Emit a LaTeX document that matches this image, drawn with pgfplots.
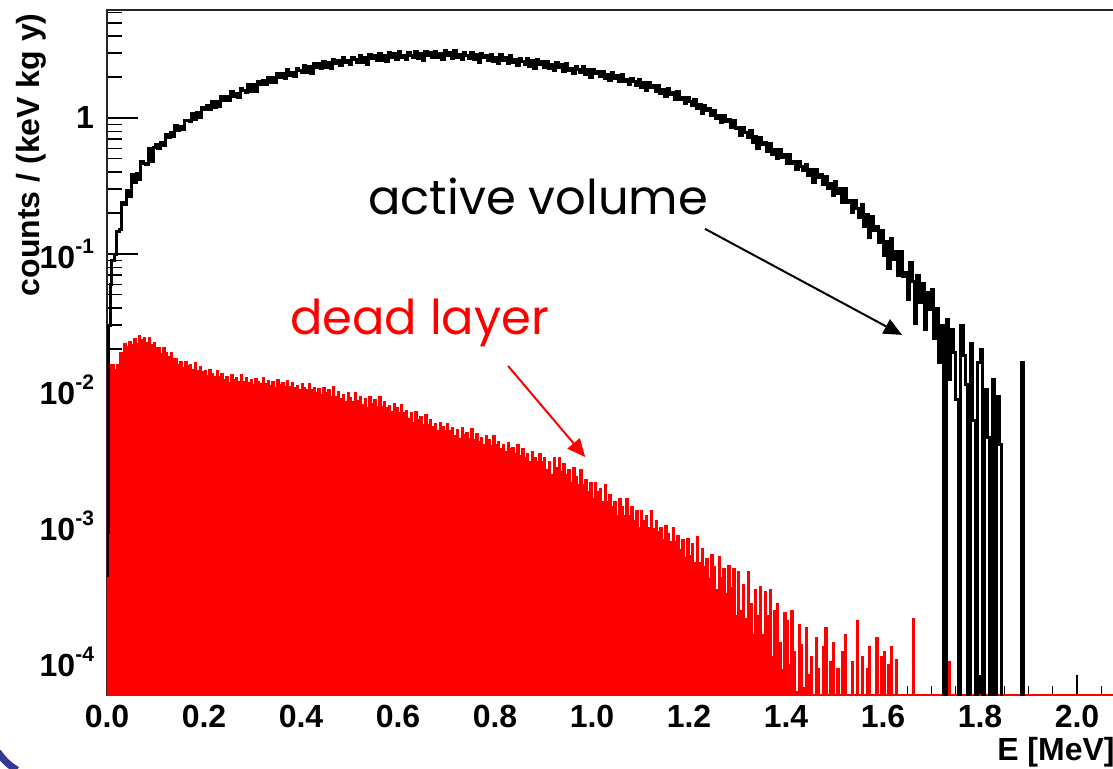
\documentclass[border=0pt]{standalone}
\usepackage{fontspec}
\setmainfont{Liberation Sans}
\newfontfamily\comic{Poppins}
\usepackage{pgfplots}
\pgfplotsset{compat=1.18}
\usetikzlibrary{arrows.meta}
\newcommand{\tenp}[1]{10\raisebox{0.48em}{\fontsize{10.5}{12}\selectfont\bfseries #1}}
\begin{document}
\begin{tikzpicture}
\begin{axis}[
  scale only axis, width=509.25pt, height=342.5pt,
  xmin=0, xmax=2.1, ymode=log, ymin=5.71e-5, ymax=6.22,
  axis line style={line width=0.9pt, black!85},
  xtick={0,0.2,0.4,0.6,0.8,1,1.2,1.4,1.6,1.8,2},
  xticklabels={0.0,0.2,0.4,0.6,0.8,1.0,1.2,1.4,1.6,1.8,2.0},
  minor xtick={0.05,0.1,0.15,0.25,0.3,0.35,0.45,0.5,0.55,0.65,0.7,0.75,0.85,0.9,0.95,1.05,1.1,1.15,1.25,1.3,1.35,1.45,1.5,1.55,1.65,1.7,1.75,1.85,1.9,1.95,2.05},
  ytick={1e-4,1e-3,1e-2,1e-1,1},
  yticklabels={\tenp{-4},\tenp{-3},\tenp{-2},\tenp{-1},1},
  minor ytick={6e-5,7e-5,8e-5,9e-5,2e-4,3e-4,4e-4,5e-4,6e-4,7e-4,8e-4,9e-4,2e-3,3e-3,4e-3,5e-3,6e-3,7e-3,8e-3,9e-3,2e-2,3e-2,4e-2,5e-2,6e-2,7e-2,8e-2,9e-2,0.2,0.3,0.4,0.5,0.6,0.7,0.8,0.9,2,3,4,5,6},
  xtick pos=lower, ytick pos=lower,
  tick align=inside,
  xtick style={black, line width=0.6pt, /pgfplots/major tick length=10pt, /pgfplots/minor tick length=4.5pt},
  ytick style={black, line width=0.6pt, /pgfplots/major tick length=15.5pt, /pgfplots/minor tick length=7.5pt},
  ticklabel style={font=\fontsize{16}{19}\selectfont\bfseries},
  xticklabel style={yshift=-1.7pt},
  yticklabel style={xshift=-3pt},
]
% dead layer (red, filled)
\addplot[const plot, draw=red, fill=red, line width=0.5pt] table {
0.000 1e-7
0.000 0.0161
0.005 0.0153
0.010 0.0154
0.015 0.0141
0.020 0.0155
0.025 0.0187
0.030 0.0188
0.035 0.0218
0.040 0.0208
0.045 0.0227
0.050 0.0217
0.055 0.0237
0.060 0.0219
0.065 0.0250
0.070 0.0234
0.075 0.0241
0.080 0.0223
0.085 0.0245
0.090 0.0215
0.095 0.0225
0.100 0.0204
0.105 0.0206
0.110 0.0186
0.115 0.0204
0.120 0.0190
0.125 0.0177
0.130 0.0190
0.135 0.0169
0.140 0.0171
0.145 0.0154
0.150 0.0161
0.155 0.0145
0.160 0.0163
0.165 0.0150
0.170 0.0155
0.175 0.0142
0.180 0.0158
0.185 0.0140
0.190 0.0148
0.195 0.0136
0.200 0.0139
0.205 0.0128
0.210 0.0142
0.215 0.0133
0.220 0.0126
0.225 0.0139
0.230 0.0126
0.235 0.0131
0.240 0.0119
0.245 0.0126
0.250 0.0113
0.255 0.0129
0.260 0.0120
0.265 0.0124
0.270 0.0115
0.275 0.0129
0.280 0.0115
0.285 0.0123
0.290 0.0114
0.295 0.0119
0.300 0.0110
0.305 0.0122
0.310 0.0116
0.315 0.0111
0.320 0.0123
0.325 0.0112
0.330 0.0117
0.335 0.0108
0.340 0.0115
0.345 0.0105
0.350 0.0119
0.355 0.0110
0.360 0.0114
0.365 0.0106
0.370 0.0118
0.375 0.0106
0.380 0.0113
0.385 0.0105
0.390 0.0108
0.395 0.0100
0.400 0.0111
0.405 0.0105
0.410 0.0100
0.415 0.0111
0.420 0.0100
0.425 0.0105
0.430 0.0096
0.435 0.0102
0.440 0.0092
0.445 0.0104
0.450 0.0096
0.455 0.0100
0.460 0.0089
0.465 0.0106
0.470 0.0089
0.475 0.0098
0.480 0.0087
0.485 0.0092
0.490 0.0082
0.495 0.0096
0.500 0.0088
0.505 0.0082
0.510 0.0096
0.515 0.0083
0.520 0.0089
0.525 0.0078
0.530 0.0086
0.535 0.0074
0.540 0.0090
0.545 0.0080
0.550 0.0085
0.555 0.0075
0.560 0.0089
0.565 0.0075
0.570 0.0082
0.575 0.0074
0.580 0.0077
0.585 0.0069
0.590 0.0080
0.595 0.0074
0.600 0.0068
0.605 0.0078
0.610 0.0068
0.615 0.0071
0.620 0.0062
0.625 0.0068
0.630 0.0058
0.635 0.0069
0.640 0.0061
0.645 0.0064
0.650 0.0056
0.655 0.0066
0.660 0.0056
0.665 0.0061
0.670 0.0054
0.675 0.0057
0.680 0.0050
0.685 0.0058
0.690 0.0054
0.695 0.0050
0.700 0.0057
0.705 0.0050
0.710 0.0053
0.715 0.0046
0.720 0.0051
0.725 0.0044
0.730 0.0053
0.735 0.0047
0.740 0.0049
0.745 0.0044
0.750 0.0052
0.755 0.0043
0.760 0.0048
0.765 0.0042
0.770 0.0045
0.775 0.0040
0.780 0.0046
0.785 0.0043
0.790 0.0039
0.795 0.0046
0.800 0.0040
0.805 0.0042
0.810 0.0037
0.815 0.0040
0.820 0.0035
0.825 0.0041
0.830 0.0037
0.835 0.0038
0.840 0.0034
0.845 0.0040
0.850 0.0033
0.855 0.0037
0.860 0.0032
0.865 0.0034
0.870 0.0030
0.875 0.0035
0.880 0.0032
0.885 0.0030
0.890 0.0034
0.895 0.0030
0.900 0.0032
0.905 0.0026
0.910 0.0030
0.915 0.0024
0.920 0.0032
0.925 0.0027
0.930 0.0032
0.935 0.0025
0.940 0.0029
0.945 0.0024
0.950 0.0026
0.955 0.0021
0.960 0.0027
0.965 0.0023
0.970 0.0020
0.975 0.0026
0.980 0.0020
0.985 0.0022
0.990 0.0018
0.995 0.0021
1.000 0.0016
1.005 0.0021
1.010 0.0018
1.015 0.0019
1.020 0.0015
1.025 0.0020
1.030 0.0015
1.035 0.0017
1.040 0.0014
1.045 0.0015
1.050 0.0012
1.055 0.0016
1.060 0.0014
1.065 0.0012
1.070 0.0016
1.075 0.0012
1.080 0.0014
1.085 0.0011
1.090 0.0013
1.095 0.00097
1.100 0.0013
1.105 0.0011
1.110 0.0012
1.115 0.00097
1.120 0.0013
1.125 0.00095
1.130 0.0011
1.135 0.00091
1.140 0.00097
1.145 0.00079
1.150 0.0010
1.155 0.00088
1.160 0.00077
1.165 0.00098
1.170 0.00077
1.175 0.00085
1.180 0.00067
1.185 0.00079
1.190 0.00059
1.195 0.00081
1.200 0.00061
1.205 0.00074
1.210 0.00054
1.215 0.00083
1.220 0.00054
1.225 0.00068
1.230 0.00050
1.235 0.00058
1.240 0.00041
1.245 0.00062
1.250 0.00050
1.255 0.00034
1.260 0.00060
1.265 0.00042
1.270 0.00049
1.275 0.00032
1.280 0.00051
1.285 0.00035
1.290 0.00049
1.295 0.00022
1.300 0.00046
1.305 0.00024
1.310 0.00037
1.315 0.00021
1.320 0.00046
1.325 0.00027
1.330 0.00016
1.335 0.00034
1.340 0.00022
1.345 0.00036
1.350 0.00016
1.355 0.00033
1.360 0.00022
1.365 0.00034
1.370 0.00011
1.375 0.00024
1.380 0.00027
1.385 0.00014
1.390 0.000088
1.395 0.00023
1.400 0.00020
1.405 0.000096
1.410 0.00024
1.415 0.00012
1.420 0.000061
1.425 0.00019
1.430 0.000135
1.435 0.000065
1.440 0.00018
1.445 0.000081
1.450 0.00011
1.455 5.72e-5
1.460 0.00015
1.465 0.00009
1.470 5.72e-5
1.475 0.00013
1.480 0.00018
1.485 5.72e-5
1.490 0.00010
1.495 0.00014
1.500 5.72e-5
1.505 0.00009
1.510 5.72e-5
1.515 0.00012
1.520 0.00016
1.525 5.72e-5
1.535 0.00010
1.540 5.72e-5
1.545 0.00020
1.550 5.72e-5
1.555 0.00011
1.560 5.72e-5
1.565 0.00009
1.570 0.00013
1.575 5.72e-5
1.585 0.00015
1.590 5.72e-5
1.595 0.00011
1.600 0.00012
1.605 5.72e-5
1.610 0.000095
1.615 0.00013
1.620 5.72e-5
1.625 0.000105
1.630 5.72e-5
1.660 0.00021
1.665 5.72e-5
1.735 0.00010
1.740 5.72e-5
2.100 5.72e-5
2.100 1e-7
};
% active volume (black line)
\addplot[const plot, draw=black, line width=1.5pt] table {
0.000 0.00043
0.002 0.0009
0.004 0.030
0.007 0.060
0.010 0.090
0.015 0.099
0.020 0.146
0.025 0.151
0.030 0.239
0.035 0.230
0.040 0.292
0.045 0.264
0.050 0.383
0.055 0.336
0.060 0.392
0.065 0.353
0.070 0.482
0.075 0.465
0.080 0.453
0.085 0.592
0.090 0.480
0.095 0.607
0.100 0.636
0.105 0.595
0.110 0.665
0.115 0.624
0.120 0.753
0.125 0.715
0.130 0.786
0.135 0.735
0.140 0.873
0.145 0.809
0.150 0.869
0.155 0.828
0.160 0.966
0.165 0.950
0.170 0.941
0.175 1.081
0.180 0.978
0.185 1.102
0.190 1.001
0.195 1.198
0.200 1.148
0.205 1.233
0.210 1.151
0.215 1.312
0.220 1.201
0.225 1.316
0.230 1.211
0.235 1.436
0.240 1.341
0.245 1.450
0.250 1.335
0.255 1.564
0.260 1.432
0.265 1.519
0.270 1.425
0.275 1.638
0.280 1.588
0.285 1.551
0.290 1.759
0.295 1.572
0.300 1.751
0.305 1.574
0.310 1.866
0.315 1.772
0.320 1.893
0.325 1.758
0.330 1.993
0.335 1.815
0.340 1.979
0.345 1.812
0.350 2.140
0.355 1.985
0.360 2.132
0.365 1.951
0.370 2.268
0.375 2.061
0.380 2.172
0.385 2.023
0.390 2.310
0.395 2.225
0.400 2.160
0.405 2.432
0.410 2.158
0.415 2.389
0.420 2.131
0.425 2.507
0.430 2.364
0.435 2.507
0.440 2.312
0.445 2.604
0.450 2.356
0.455 2.547
0.460 2.313
0.465 2.708
0.470 2.497
0.475 2.668
0.480 2.427
0.485 2.807
0.490 2.538
0.495 2.659
0.500 2.465
0.505 2.795
0.510 2.674
0.515 2.579
0.520 2.887
0.525 2.547
0.530 2.804
0.535 2.488
0.540 2.911
0.545 2.730
0.550 2.881
0.555 2.640
0.560 2.955
0.565 2.657
0.570 2.862
0.575 2.590
0.580 3.022
0.585 2.776
0.590 2.956
0.595 2.680
0.600 3.089
0.605 2.780
0.610 2.901
0.615 2.677
0.620 3.028
0.625 2.890
0.630 2.780
0.635 3.105
0.640 2.734
0.645 3.001
0.650 2.657
0.655 3.095
0.660 2.891
0.665 3.037
0.670 2.774
0.675 3.095
0.680 2.774
0.685 2.978
0.690 2.686
0.695 3.124
0.700 2.862
0.705 3.030
0.710 2.732
0.715 3.131
0.720 2.805
0.725 2.914
0.730 2.677
0.735 3.015
0.740 2.864
0.745 2.743
0.750 3.050
0.755 2.669
0.760 2.913
0.765 2.563
0.770 2.974
0.775 2.767
0.780 2.895
0.785 2.634
0.790 2.928
0.795 2.613
0.800 2.795
0.805 2.510
0.810 2.906
0.815 2.650
0.820 2.800
0.825 2.519
0.830 2.881
0.835 2.576
0.840 2.670
0.845 2.448
0.850 2.751
0.855 2.606
0.860 2.488
0.865 2.758
0.870 2.410
0.875 2.627
0.880 2.308
0.885 2.673
0.890 2.483
0.895 2.594
0.900 2.356
0.905 2.612
0.910 2.326
0.915 2.481
0.920 2.223
0.925 2.568
0.930 2.336
0.935 2.463
0.940 2.211
0.945 2.523
0.950 2.250
0.955 2.327
0.960 2.128
0.965 2.386
0.970 2.256
0.975 2.150
0.980 2.380
0.985 2.076
0.990 2.258
0.995 1.980
1.000 2.290
1.005 2.121
1.010 2.209
1.015 2.001
1.020 2.213
1.025 1.967
1.030 2.093
1.035 1.871
1.040 2.157
1.045 1.958
1.050 2.059
1.055 1.842
1.060 2.095
1.065 1.862
1.070 1.919
1.075 1.748
1.080 1.953
1.085 1.840
1.090 1.747
1.095 1.926
1.100 1.673
1.105 1.811
1.110 1.580
1.115 1.817
1.120 1.675
1.125 1.737
1.130 1.566
1.135 1.724
1.140 1.524
1.145 1.614
1.150 1.435
1.155 1.644
1.160 1.482
1.165 1.548
1.170 1.376
1.175 1.555
1.180 1.374
1.185 1.406
1.190 1.272
1.195 1.411
1.200 1.320
1.205 1.243
1.210 1.359
1.215 1.170
1.220 1.257
1.225 1.087
1.230 1.240
1.235 1.134
1.240 1.165
1.245 1.040
1.250 1.134
1.255 0.995
1.260 1.044
1.265 0.921
1.270 1.046
1.275 0.936
1.280 0.969
1.285 0.854
1.290 0.957
1.295 0.837
1.300 0.851
1.305 0.746
1.310 0.852
1.315 0.780
1.320 0.722
1.325 0.807
1.330 0.662
1.335 0.728
1.340 0.598
1.345 0.713
1.350 0.634
1.355 0.657
1.360 0.569
1.365 0.646
1.370 0.543
1.375 0.587
1.380 0.500
1.385 0.591
1.390 0.512
1.395 0.540
1.400 0.460
1.405 0.539
1.410 0.461
1.415 0.475
1.420 0.419
1.425 0.482
1.430 0.440
1.435 0.409
1.440 0.458
1.445 0.377
1.450 0.420
1.455 0.335
1.460 0.418
1.465 0.363
1.470 0.382
1.475 0.322
1.480 0.374
1.485 0.304
1.490 0.330
1.495 0.270
1.500 0.342
1.505 0.279
1.510 0.303
1.515 0.239
1.520 0.304
1.525 0.237
1.530 0.248
1.535 0.201
1.540 0.246
1.545 0.2145
1.550 0.185
1.555 0.232
1.560 0.160
1.565 0.194
1.570 0.133
1.575 0.187
1.580 0.149
1.585 0.160
1.590 0.121
1.595 0.148
1.600 0.098
1.605 0.123
1.610 0.078
1.615 0.129
1.620 0.091
1.625 0.105
1.630 0.069
1.635 0.104
1.640 0.068
1.645 0.073
1.650 0.046
1.655 0.087
1.660 0.063
1.665 0.031
1.670 0.070
1.675 0.044
1.680 0.061
1.685 0.028
1.690 0.052
1.695 0.039
1.700 0.055
1.705 0.024
1.710 0.040
1.715 0.016
1.720 0.030
1.725 1e-7
1.730 0.033
1.735 0.012
1.740 0.028
1.745 0.019
1.750 0.0085
1.755 1e-7
1.760 0.030
1.765 0.018
1.770 0.011
1.775 1e-7
1.780 0.022
1.785 0.006
1.790 1e-7
1.795 0.016
1.800 0.020
1.805 1e-7
1.810 0.010
1.815 0.0045
1.820 1e-7
1.825 0.012
1.830 1e-7
1.835 0.009
1.840 0.004
1.845 1e-7
1.885 0.016
1.890 1e-7
2.100 1e-7
};
\node[anchor=base west, inner sep=0, font=\comic\fontsize{24}{28}\selectfont] at (axis cs:0.538,0.194) {active volume};
\node[anchor=base west, inner sep=0, text=red, font=\comic\fontsize{24}{28}\selectfont] at (axis cs:0.377,0.0254) {dead layer};
\draw[-{Triangle[length=9pt,width=8pt]}, line width=1pt] (axis cs:1.233,0.153) -- (axis cs:1.639,0.0254);
\draw[red, -{Triangle[length=9pt,width=8pt]}, line width=1pt] (axis cs:0.827,0.0150) -- (axis cs:0.986,0.00321);
\coordinate (SW) at (rel axis cs:0,0);
\end{axis}
\node[rotate=90, anchor=east, inner sep=0, font=\fontsize{16}{19}\selectfont\bfseries] at ([xshift=-38pt,yshift=341pt]SW) {counts / (keV kg y)};
\node[anchor=base east, inner sep=0, font=\fontsize{16}{19}\selectfont\bfseries] at ([xshift=504pt,yshift=-32.5pt]SW) {E [MeV]};
\draw[color={rgb,255:red,55;green,55;blue,150}, line width=3.5pt] ([xshift=-54.5pt,yshift=-28.5pt]SW) to[bend right=12] ([xshift=-45pt,yshift=-37.5pt]SW);
\pgfresetboundingbox
\useasboundingbox ([xshift=-53.5pt,yshift=-36.5pt]SW) rectangle ([xshift=503pt,yshift=347.5pt]SW);
\end{tikzpicture}
\end{document}
